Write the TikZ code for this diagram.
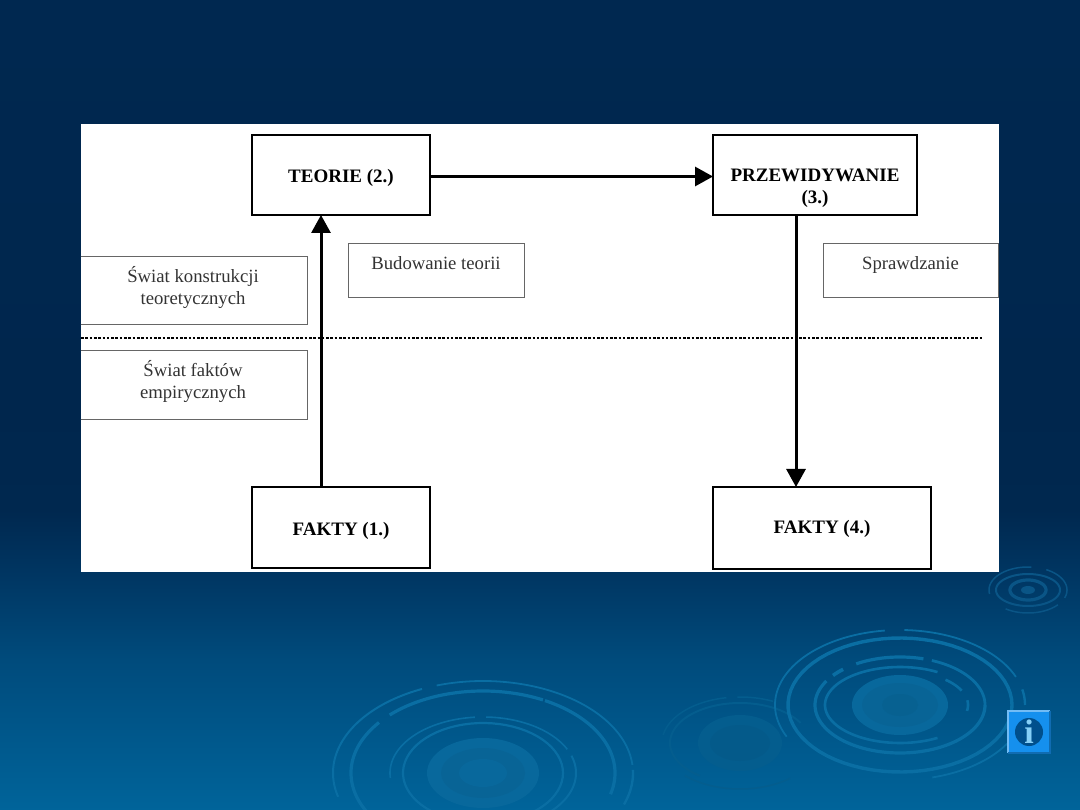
\documentclass[tikz,border=0pt]{standalone}
\usepackage{fontspec}
\setmainfont{Liberation Serif}
\usetikzlibrary{%
    positioning,
    calc,
    arrows.meta
}
\definecolor{seaA}{HTML}{002850}
\definecolor{seaB}{HTML}{00264D}
\definecolor{seaC}{HTML}{00284F}
\definecolor{seaD}{HTML}{003561}
\definecolor{seaE}{HTML}{004B7C}
\definecolor{seaF}{HTML}{00649A}
\definecolor{rippleBig}{HTML}{0A6EA3}
\definecolor{rippleBlob}{HTML}{08689C}
\definecolor{rippleFar}{HTML}{045D8E}
\definecolor{rippleSmall}{HTML}{0A5586}
\definecolor{infoBlue}{HTML}{1590EE}
\definecolor{infoDark}{HTML}{004F8C}
\definecolor{infoLight}{HTML}{86CFF7}
\pgfdeclareverticalshading{seaback}{100bp}{%
    color(0bp)=(seaF); color(25bp)=(seaF); color(34.26bp)=(seaE);
    color(39.81bp)=(seaD); color(43.5bp)=(seaC); color(50bp)=(seaB);
    color(75bp)=(seaA); color(100bp)=(seaA)}
% rings of one ripple: centre x, centre y, colour, list of rx/ry/from/to/width
\newcommand{\ringset}[4]{%
    \begin{scope}[shift={(#1,#2)}]
        \foreach \rx/\ry/\a/\b/\w in {#4} {
            \draw[#3, line width=\w pt] plot[domain=\a:\b, samples=70] ({\rx*cos(\x)},{-\ry*sin(\x)});
        }
    \end{scope}}
\begin{document}
\begin{tikzpicture}[x=1pt, y=1pt, yscale=-1, node distance=100pt,
                keybox/.style={rectangle, draw=black, line width=2.6pt, outer sep=0pt, inner sep=0pt, fill=white, align=center, font=\fontsize{19}{22}\selectfont\bfseries},
                sidenote/.style={rectangle, draw=black!60, line width=1pt, outer sep=0pt, inner sep=0pt, align=center, text=black!80, font=\fontsize{18.7}{22}\selectfont},
                flow/.style={draw, line width=3pt, -{Triangle[length=18pt, width=19pt]}},
                boundary/.style={draw, line width=2.8pt, dash pattern=on 2.6pt off 1.7pt}
            ]
            \useasboundingbox (0,0) rectangle (1080,810);
            \shade[shading=seaback] (0,0) rectangle (1080,810);

            % ripples on the water
            \ringset{740}{743}{rippleFar}{78/46/100/170/1.5, 78/46/65/92/1.5, 70/40/30/235/2, 78/46/225/310/1.5}
            \fill[rippleFar] (740,743) ellipse [x radius=42, y radius=28];
            \fill[rippleFar!97!black] (740,743) ellipse [x radius=30, y radius=18];
            \ringset{900}{705}{rippleBig}{125/75/22/88/1.8, 125/75/0/12/2.4, 125/75/97/205/1.8, 125/75/285/330/1.8, 112/67/0/360/3.4, 85/48/74/121/3.2, 85/48/132/142/3.6, 85/48/150/360/3.2, 85/48/0/68/2.8, 75/38/60/300/2.6, 68/34/25/48/2.6, 68/34/-10/8/2.6}
            \fill[rippleBlob] (900,705) ellipse [x radius=48, y radius=30];
            \fill[rippleBlob!96!black] (900,705) ellipse [x radius=38, y radius=22];
            \fill[rippleBlob!93!black] (900,705) ellipse [x radius=18, y radius=11];
            \ringset{483}{773}{rippleBig}{150/92/5/108/1.8, 150/92/114/195/2, 150/92/-20/2/2.4, 132/82/63/135/3.2, 132/82/-15/62/3.2, 132/82/142/215/3.2, 93/56/95/185/1.6, 93/56/25/88/1.6, 93/56/-50/18/2, 80/50/0/360/2.2}
            \fill[rippleBlob] (483,773) ellipse [x radius=56, y radius=35];
            \fill[rippleBlob!96!black] (483,773) ellipse [x radius=42, y radius=25];
            \fill[rippleBlob] (483,773) ellipse [x radius=24, y radius=14];
            \ringset{1028}{590}{rippleSmall}{39/23/-20/62/1.5, 39/23/85/190/1.5, 39/23/235/320/1.5, 32/16/0/360/2, 18/10/0/360/3.2}
            \fill[rippleSmall] (1028,590) ellipse [x radius=7, y radius=4];

            \node (panel) at (540,348) [rectangle, fill=white, minimum width=918pt, minimum height=448pt] {};

            \begin{scope}
                \clip (panel.south west) rectangle (panel.north east);
                \node (konstrukcje) at (193,291) [sidenote, minimum width=228pt, minimum height=68pt, text height=47.5pt, text depth=20.5pt] {Świat konstrukcji\\teoretycznych};
                \node (empiria) at (193,385.5) [sidenote, minimum width=228pt, minimum height=69pt, text height=48pt, text depth=21pt] {Świat faktów\\empirycznych};
                \node (budowanie) at (436,271) [sidenote, minimum width=176pt, minimum height=54pt, text height=26pt, text depth=28pt] {Budowanie teorii};
                \node (sprawdzanie) at (910.5,271) [sidenote, minimum width=175pt, minimum height=54pt, text height=26pt, text depth=28pt] {Sprawdzanie};
            \end{scope}

            \node (teorie) at (341,175) [keybox, minimum width=178pt, minimum height=80pt, text height=48pt, text depth=32pt] {TEORIE (2.)};
            \node (przewidywanie) [keybox, right=283pt of teorie, minimum width=204pt, minimum height=80pt, text height=69pt, text depth=11pt] {PRZEWIDYWANIE\\(3.)};
            \node (fakty1) [keybox, below=272pt of teorie, minimum width=178pt, minimum height=81pt, text height=48pt, text depth=33pt] {FAKTY (1.)};
            \node (fakty4) at (822,528) [keybox, minimum width=218pt, minimum height=82pt, text height=46pt, text depth=36pt] {FAKTY (4.)};

            \coordinate (edgeL) at (81,338);
            \coordinate (edgeR) at (983,338);
            \draw[boundary] (edgeL) -- (edgeR);

            \path[flow] ([xshift=-20pt]fakty1.north) -- ([xshift=-20pt]teorie.south);
            \path[flow] ([yshift=1.5pt]teorie.east) -- ([yshift=1.5pt]przewidywanie.west);
            \path[flow] ([xshift=-19pt]przewidywanie.south) -- ([xshift=-26pt]fakty4.north);

            % info button
            \node (info) at (1029,732) [rectangle, fill=infoBlue, minimum size=42pt, outer sep=0pt] {};
            \draw[infoBlue!60!white, line width=1.5pt] (info.south west) -- (info.north west) -- (info.north east);
            \draw[infoBlue!75!black, line width=1.5pt] (info.north east) -- (info.south east) -- (info.south west);
            \node (infodisc) at (info.center) [circle, fill=infoDark, minimum size=28pt, inner sep=0pt] {};
            \node (infosign) at (info.center) [text=infoLight, font=\fontsize{34}{34}\selectfont\bfseries, inner sep=0pt] {i};
        \end{tikzpicture}
\end{document}
